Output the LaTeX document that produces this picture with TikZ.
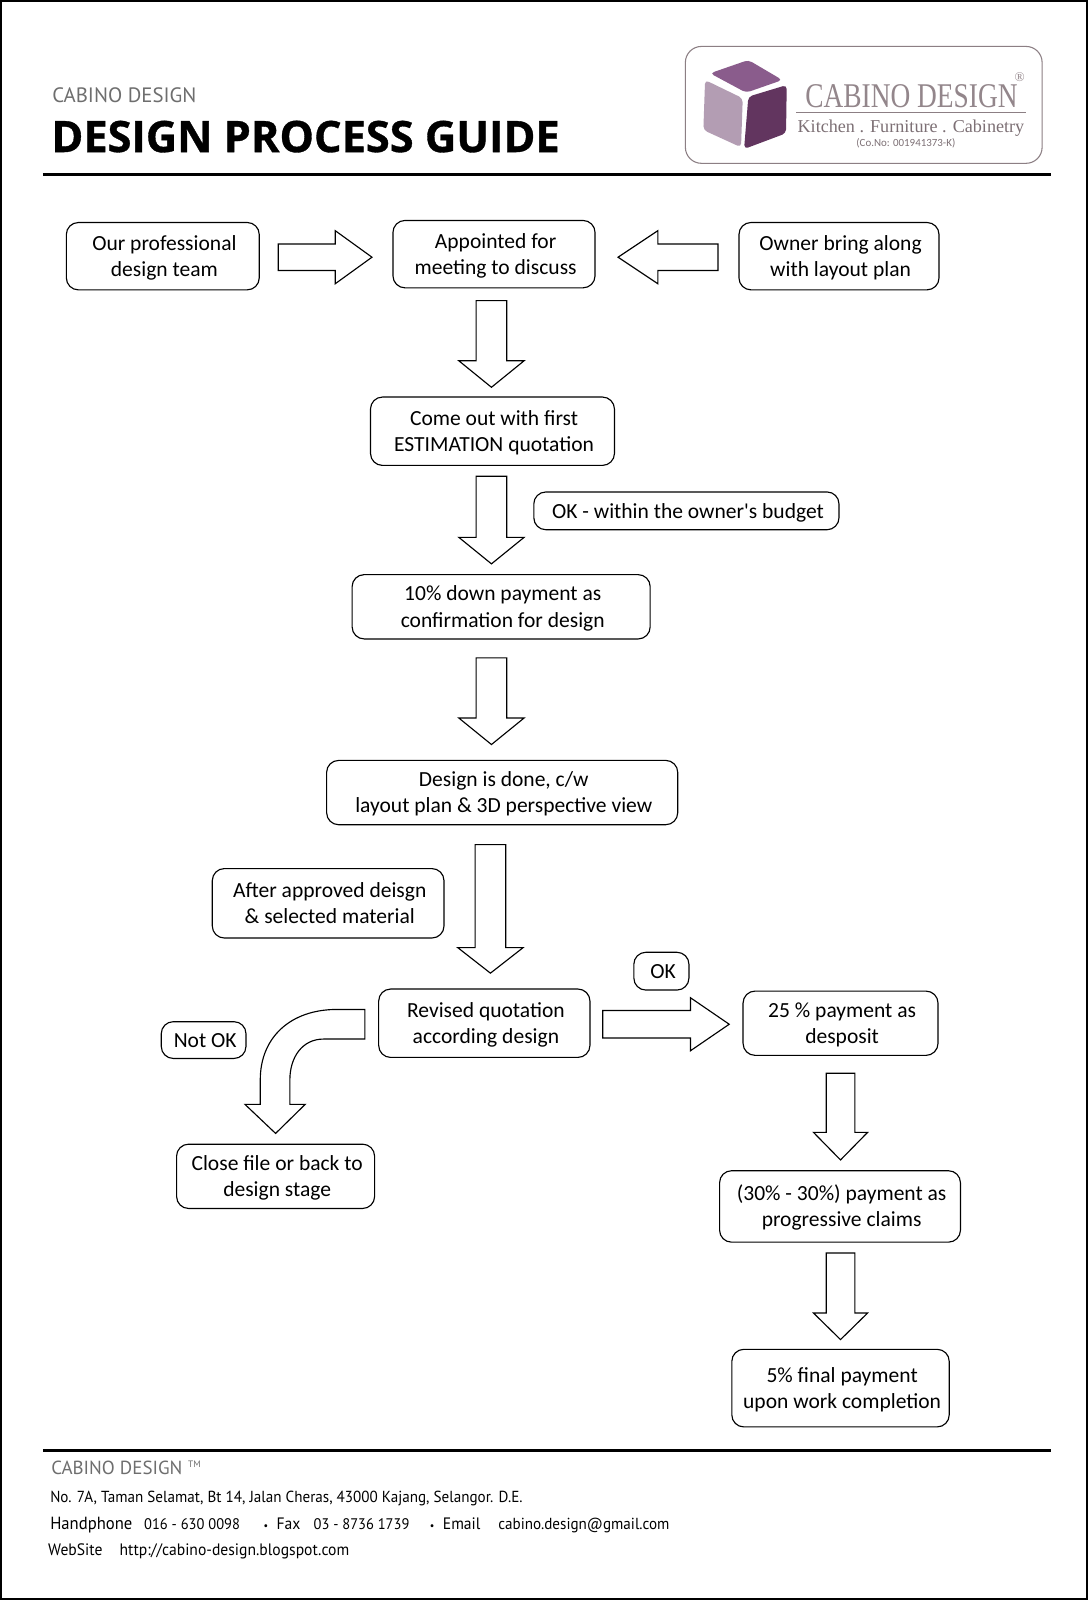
\documentclass[tikz,border=0pt]{standalone}
\usepackage{fontspec}
\usetikzlibrary{calc}
\setmainfont{Carlito}
\newfontfamily\footf{PT Sans}[FakeStretch=0.945]
\newfontfamily\brandf{PT Sans}
\newfontfamily\headf{Open Sans}[BoldFeatures={FakeBold=0.8}]
\newfontfamily\logof{Liberation Serif}
\newfontfamily\logonamef{Liberation Serif}[FakeStretch=0.79]
\newfontfamily\logosm{Carlito}
\definecolor{logoline}{HTML}{8C7F84}
\definecolor{logotext}{HTML}{7D7075}
\definecolor{logoname}{HTML}{93868B}
\definecolor{greytext}{HTML}{6E6E6E}
\definecolor{cubetop}{HTML}{8A5C8C}
\definecolor{cubeleft}{HTML}{B39DB3}
\definecolor{cuberight}{HTML}{62355F}
\def\uu{0.7654pt}
% two-line box text, set slightly right of and below the box centre as in the reference
\newcommand{\ft}[1]{\hspace*{2.4pt}\begin{tabular}{@{}c@{}}\rule{0pt}{16.7pt}#1\end{tabular}}
\newcommand{\smallbullet}{{\fontsize{8pt}{8pt}\selectfont •}}
\tikzset{
  x=0.7654pt,y=-0.7654pt,
  flowbox/.style={draw=black,line width=0.85pt,rounded corners=9pt,inner sep=0pt,
    font=\fontsize{16.15pt}{19.9pt}\selectfont,text=black},
  blockline/.style={draw=black,fill=white,line width=0.85pt,line join=miter},
  footer/.style={anchor=base west,inner sep=0pt,text=black,font=\footf\fontsize{12pt}{14pt}\selectfont},
  footerwide/.style={footer,font=\footf\fontsize{12.4pt}{14pt}\selectfont},
  footernum/.style={footer,font=\footf\fontsize{11.5pt}{14pt}\selectfont},
  rulebar/.style={line width=2.8pt,draw=black},
  cube/.style={rounded corners=3pt,draw=none},
}
% block arrow from a point near one node to a point near another
\newcommand{\blockarrow}[8]{% from, offset, to, offset, shaft half, head half, head length, name
  \coordinate (#8s) at ($(#1)+(#2)$);
  \coordinate (#8t) at ($(#3)+(#4)$);
  \coordinate (#8b) at ($(#8t)!#7*\uu!(#8s)$);
  \draw[blockline] ($(#8s)!#5*\uu!90:(#8t)$) -- ($(#8b)!#5*\uu!90:(#8t)$) -- ($(#8b)!#6*\uu!90:(#8t)$)
    -- (#8t) -- ($(#8b)!#6*\uu!-90:(#8t)$) -- ($(#8b)!#5*\uu!-90:(#8t)$) -- ($(#8s)!#5*\uu!-90:(#8t)$) -- cycle;
}
\begin{document}
\begin{tikzpicture}
\useasboundingbox (0,0) rectangle (1066,1567.6);
\fill[white] (0,0) rectangle (1066,1567.6);
\draw[black,line width=1.5pt] (0.5,0.5) rectangle (1065.2,1566.6);

% header
\node[anchor=base west,inner sep=0pt,text=greytext,font=\brandf\fontsize{15.6pt}{18pt}\selectfont] (brand) at (51,100) {CABINO DESIGN};
\node[anchor=base west,inner sep=0pt,font=\headf\bfseries\fontsize{32.5pt}{34pt}\selectfont] (title) at (50,149) {DESIGN PROCESS GUIDE};
\coordinate (ruleTopL) at (42,171); \coordinate (ruleTopR) at (1030,171);
\draw[rulebar] (ruleTopL) -- (ruleTopR);

% logo
\draw[logoline,line width=0.8pt,rounded corners=12pt] (671.5,45.5) rectangle (1021,160);
\fill[cubetop,cube] (695.7,71.8) -- (733.2,58.8) -- (766.5,78.4) -- (731,90.8) -- cycle;
\fill[cubeleft,cube] (690.8,78.4) -- (727.7,96.3) -- (726,144.3) -- (689.1,127.4) -- cycle;
\fill[cuberight,cube] (733.2,94.7) -- (770.8,83.3) -- (770.1,130.6) -- (729,146) -- cycle;
\node[anchor=base,inner sep=0pt,text=logoname,font=\logonamef\fontsize{26pt}{28pt}\selectfont] (logoname) at (893,105) {CABINO DESIGN};
\node[inner sep=0pt,text=logoname,font=\logof\fontsize{10pt}{11pt}\selectfont] (logoreg) at (999,76) {®};
\draw[logoline,line width=0.7pt] (780,110.5) -- (1005,110.5);
\node[anchor=base,inner sep=0pt,text=logotext,font=\logof\fontsize{13.6pt}{15pt}\selectfont] (logotag) at (892.5,130) {Kitchen . Furniture . Cabinetry};
\node[anchor=base,inner sep=0pt,text=logotext,font=\logosm\fontsize{8.2pt}{9pt}\selectfont] (logono) at (887.5,144) {(Co.No: 001941373-K)};

% boxes
\node[flowbox,minimum width=189*\uu,minimum height=66*\uu] (team) at (159.5,251) {\ft{Our professional\\design team}};
\node[flowbox,minimum width=198*\uu,minimum height=66*\uu] (meet) at (484,249) {\ft{Appointed for\\meeting to discuss}};
\node[flowbox,minimum width=196*\uu,minimum height=66*\uu] (owner) at (822,251) {\ft{Owner bring along\\with layout plan}};
\node[flowbox,minimum width=239*\uu,minimum height=67*\uu] (estim) at (482.5,422.5) {\ft{Come out with first\\ESTIMATION quotation}};
\node[flowbox,minimum width=299*\uu,minimum height=37*\uu] (budget) at (672.5,500.5) {\ft{OK - within the owner\textquotesingle s budget}};
\node[flowbox,minimum width=292*\uu,minimum height=63*\uu] (down) at (491,594.5) {\ft{10\% down payment as\\confirmation for design}};
\node[flowbox,minimum width=344*\uu,minimum height=63*\uu] (done) at (492,776.5) {\ft{Design is done, c/w\\layout plan \& 3D perspective view}};
\node[flowbox,minimum width=227*\uu,minimum height=68*\uu] (appr) at (321.5,885) {\ft{After approved deisgn\\\& selected material}};
\node[flowbox,minimum width=207*\uu,minimum height=67*\uu] (revised) at (474.5,1002.5) {\ft{Revised quotation\\according design}};
\node[flowbox,minimum width=54*\uu,minimum height=37*\uu] (okb) at (648,951.5) {\ft{OK}};
\node[flowbox,minimum width=191*\uu,minimum height=63*\uu] (depo) at (823.5,1002.5) {\ft{25 \% payment as\\desposit}};
\node[flowbox,minimum width=83*\uu,minimum height=36*\uu] (notok) at (199.5,1019) {\ft{Not OK}};
\node[flowbox,minimum width=194*\uu,minimum height=63*\uu] (close) at (270,1152.5) {\ft{Close file or back to\\design stage}};
\node[flowbox,minimum width=236*\uu,minimum height=70*\uu] (prog) at (823,1182) {\ft{(30\% - 30\%) payment as\\progressive claims}};
\node[flowbox,minimum width=213*\uu,minimum height=76*\uu] (final) at (823.5,1360) {\ft{5\% final payment\\upon work completion}};

% block arrows
\blockarrow{team.east}{18,1}{meet.west}{-20,3}{13}{26}{36}{aa}
\blockarrow{owner.west}{-20,1}{meet.east}{22,3}{13}{26}{39}{ab}
\blockarrow{meet.south}{-2.5,12}{estim.north}{-1,-9}{15}{32}{26}{ac}
\blockarrow{estim.south}{-1,10}{down.north}{-9.5,-10}{15}{32}{26}{ad}
\blockarrow{down.south}{-9.5,18}{done.north}{-10.5,-15}{15}{32}{26}{ae}
\blockarrow{done.south}{-11.5,19}{revised.north}{6,-15}{15}{32}{25}{af}
\blockarrow{revised.east}{12,1}{depo.west}{-13,1}{13.5}{26}{38}{ag}
\blockarrow{depo.south}{0,17}{prog.north}{0.5,-10}{14}{26.5}{27}{ah}
\blockarrow{prog.south}{0.5,10}{final.north}{0,-9}{14}{26.5}{26}{ai}

% curved block arrow
\coordinate (cs1) at ($(revised.west)+(-13,-13.5)$);
\coordinate (cs2) at ($(revised.west)+(-13,15.5)$);
\coordinate (ctip) at ($(close.north)+(0,-10)$);
\draw[blockline] (cs1) -- (cs2) -- (317,1018) .. controls (296,1018) and (284,1036) .. (284,1058)
  -- (284,1082) -- (299,1082) -- (ctip) -- (240,1082) -- (255,1082) -- (255,1058)
  .. controls (255,1016) and (285,989) .. (330,989) -- cycle;

% footer
\coordinate (ruleBotL) at (42,1421); \coordinate (ruleBotR) at (1030,1421);
\draw[rulebar] (ruleBotL) -- (ruleBotR);
\node[footer,text=greytext,font=\brandf\fontsize{14.2pt}{16pt}\selectfont] (fbrand) at (50,1445) {CABINO DESIGN};
\node[footer,text=greytext,font=\brandf\fontsize{7pt}{8pt}\selectfont] (ftm) at (184,1438) {TM};
\node[footer] (faddr) at (49,1472.5) {No. 7A, Taman Selamat, Bt 14, Jalan Cheras, 43000 Kajang, Selangor. D.E.};
\node[footer,font=\footf\fontsize{13.2pt}{14pt}\selectfont] (fh) at (49,1498.5) {Handphone};
\node[footernum] (fhn) at (141,1498.5) {016 - 630 0098};
\node[footerwide] (ffax) at (258,1498.5) {\smallbullet\ \ Fax};
\node[footernum] (ffn) at (307,1498.5) {03 - 8736 1739};
\node[footerwide] (fem) at (421,1498.5) {\smallbullet\ \ Email};
\node[footer] (fema) at (488,1498.5) {cabino.design@gmail.com};
\node[footerwide] (fw) at (47,1523.5) {WebSite};
\node[footerwide] (fwa) at (117,1523.5) {http://cabino-design.blogspot.com};
\end{tikzpicture}
\end{document}
